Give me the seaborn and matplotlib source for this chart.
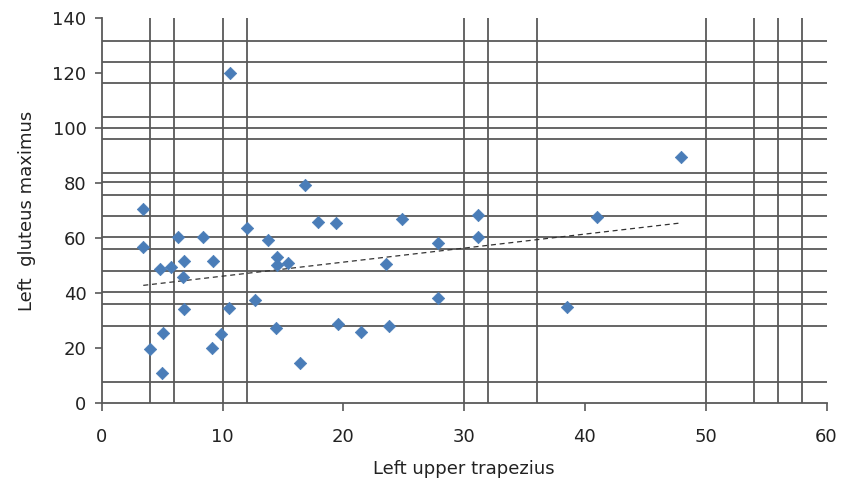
import numpy as np
import pandas as pd
import matplotlib
matplotlib.use("Agg")
import matplotlib.pyplot as plt
import seaborn as sns

# Data
trapezius = [3.44, 3.44, 6.34, 8.41, 12.0, 13.74, 6.84, 9.24, 4.83, 5.74,
             6.75, 14.49, 14.49, 15.45, 12.69, 6.84, 10.54, 5.10, 9.85, 14.40,
             4.0, 9.16, 5.02, 16.42, 16.83, 17.93, 19.40, 24.88, 27.86, 23.51,
             27.81, 19.59, 21.44, 23.81, 47.96, 31.18, 40.98, 31.18, 38.54, 10.62]
gluteus = [70.7, 56.9, 60.4, 60.6, 63.6, 59.4, 51.9, 51.7, 48.7, 49.7,
           46.0, 53.3, 50.3, 51.1, 37.6, 34.3, 34.5, 25.5, 25.1, 27.5,
           19.6, 20.2, 10.9, 14.8, 79.4, 65.8, 65.5, 67.0, 58.2, 50.7,
           38.2, 28.7, 26.0, 28.2, 89.5, 68.5, 67.6, 60.6, 35.1, 120.0]

# Reference lines (as they appear in the chart)
vertical_lines = [4, 6, 10, 12, 30, 32, 36, 50, 54, 56, 58]
horizontal_lines = [7.9, 28.0, 36.1, 40.4, 48.2, 56.1, 60.4, 68.2, 75.8, 80.4,
                    83.7, 96.2, 100.2, 104.0, 116.4, 124.1, 131.9]

x_ticks = [0, 10, 20, 30, 40, 50, 60]
y_ticks = [0, 20, 40, 60, 80, 100, 120, 140]

df = pd.DataFrame({"Left upper trapezius": trapezius,
                   "Left gluteus maximus": gluteus})

sns.set_style("white")
plt.rcParams['font.family'] = ['DejaVu Sans']

fig = plt.figure(figsize=(8.42, 4.83), dpi=100)
ax = fig.add_axes([0.1208, 0.165, 0.8608, 0.797])

line_col = "#595959"
ax.hlines(horizontal_lines, 0, 60, colors=line_col, linewidth=1.3, zorder=1)
ax.vlines(vertical_lines, 0, 140, colors=line_col, linewidth=1.3, zorder=1)

sns.regplot(data=df, x="Left upper trapezius", y="Left gluteus maximus",
            scatter=False, ci=None, ax=ax,
            line_kws=dict(color="#333333", linewidth=0.9,
                          linestyle=(0, (4, 3)), zorder=3))
sns.scatterplot(data=df, x="Left upper trapezius", y="Left gluteus maximus",
                marker="D", s=40, color="#4a7db8", edgecolor="#4a7db8",
                linewidth=0.5, ax=ax, zorder=4)

ax.set_xlim(0, 60)
ax.set_ylim(0, 140)
ax.set_xticks(x_ticks)
ax.set_yticks(y_ticks)
ax.tick_params(axis="x", length=6, width=1.2, color=line_col, pad=12,
               labelsize=13, labelcolor="#222222")
ax.tick_params(axis="y", length=5, width=1.2, color=line_col, pad=6,
               labelsize=13, labelcolor="#222222")
ax.tick_params(bottom=True, left=True)

for s in ["top", "right"]:
    ax.spines[s].set_visible(False)
for s in ["left", "bottom"]:
    ax.spines[s].set_color(line_col)
    ax.spines[s].set_linewidth(1.3)

ax.set_xlabel("Left upper trapezius", fontsize=13, color="#222222", labelpad=10)
ax.set_ylabel("Left  gluteus maximus", fontsize=13, color="#222222", labelpad=12)

fig.savefig("out.png", dpi=100)
